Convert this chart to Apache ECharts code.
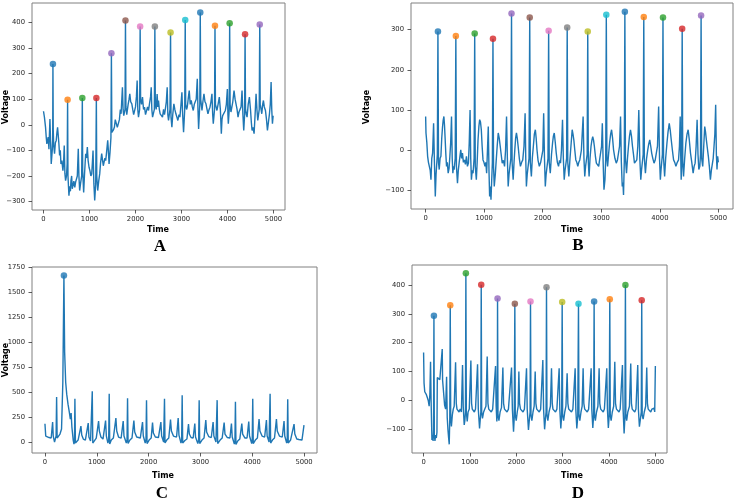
<!DOCTYPE html>
<html><head><meta charset="utf-8">
<script src="https://cdn.jsdelivr.net/npm/echarts@6/dist/echarts.min.js"></script>
<style>html,body{margin:0;padding:0;background:#fff}#c{width:738px;height:501px}</style>
</head><body><div id="c"></div><script>
// ---------- DATA ----------
var xTicks = [0, 1000, 2000, 3000, 4000, 5000];
var yTicksA = [-300, -200, -100, 0, 100, 200, 300, 400];
var yTicksB = [-100, 0, 100, 200, 300];
var yTicksC = [0, 250, 500, 750, 1000, 1250, 1500, 1750];
var yTicksD = [-100, 0, 100, 200, 300, 400];

var signalA = [[0,53],[20,30],[44,-9],[60,-50],[73,-75],[88,-60],[102,-48],[118,-95],[132,-88],[140,23],[150,-40],[168,-153],[190,-100],[200,-60],[205,238],[212,-20],[222,-80],[240,-113],[258,-70],[277,-61],[292,-30],[306,-10],[320,-40],[335,-75],[350,-120],[365,-100],[379,-153],[400,-140],[422,-179],[436,-150],[451,-81],[465,-190],[480,-218],[500,-200],[515,-150],[524,98],[532,-200],[553,-277],[570,-240],[585,-260],[597,-218],[612,-200],[625,-250],[640,-244],[660,-220],[680,-245],[698,-224],[715,-230],[735,-200],[756,-94],[770,-200],[786,-257],[805,-230],[830,-200],[844,105],[852,-180],[873,-264],[890,-200],[905,-150],[917,-113],[935,-130],[953,-87],[970,-140],[990,-166],[1010,-180],[1030,-200],[1048,-192],[1062,-150],[1077,-101],[1095,-230],[1113,-296],[1135,-230],[1149,105],[1158,-200],[1178,-257],[1200,-220],[1222,-192],[1240,-150],[1265,-113],[1285,-140],[1300,-160],[1316,-166],[1335,-130],[1352,-140],[1370,-110],[1396,-61],[1410,-100],[1425,-153],[1445,-110],[1466,-50],[1476,280],[1486,-30],[1498,-35],[1520,-20],[1542,-9],[1560,20],[1585,17],[1605,-10],[1629,-9],[1650,20],[1670,60],[1687,43],[1700,90],[1716,147],[1730,60],[1745,36],[1772,60],[1782,408],[1792,70],[1810,40],[1825,43],[1840,80],[1860,100],[1876,121],[1895,90],[1920,82],[1940,60],[1960,40],[1978,43],[2000,70],[2020,110],[2036,173],[2050,60],[2065,30],[2090,60],[2101,384],[2111,100],[2130,80],[2152,108],[2175,60],[2196,69],[2218,40],[2240,36],[2262,70],[2284,56],[2310,90],[2328,110],[2342,147],[2355,60],[2371,30],[2410,60],[2421,384],[2431,80],[2450,60],[2470,120],[2485,70],[2500,95],[2518,60],[2536,43],[2560,40],[2587,30],[2610,60],[2630,40],[2645,56],[2670,90],[2689,147],[2703,40],[2718,17],[2750,60],[2762,361],[2772,30],[2791,-9],[2810,40],[2834,82],[2855,60],[2878,43],[2900,30],[2921,17],[2945,40],[2965,30],[2985,70],[3009,127],[3025,40],[3045,-29],[3070,60],[3081,410],[3091,80],[3110,60],[3125,69],[3145,100],[3168,134],[3190,80],[3212,95],[3235,70],[3256,56],[3278,80],[3299,82],[3320,100],[3343,180],[3358,60],[3372,-16],[3398,80],[3408,439],[3418,100],[3445,56],[3465,90],[3488,121],[3510,90],[3532,82],[3555,60],[3575,43],[3600,60],[3619,69],[3640,90],[3662,121],[3678,40],[3691,4],[3718,60],[3728,387],[3738,80],[3771,56],[3795,80],[3822,108],[3845,60],[3866,-35],[3880,20],[3895,36],[3925,40],[3953,56],[3975,80],[3997,140],[4009,40],[4018,4],[4038,60],[4047,397],[4057,80],[4075,50],[4091,56],[4115,90],[4142,134],[4165,100],[4186,95],[4208,60],[4229,30],[4250,50],[4273,43],[4295,70],[4316,134],[4335,40],[4353,-22],[4372,40],[4382,354],[4392,60],[4410,40],[4425,30],[4450,80],[4476,108],[4500,60],[4518,10],[4534,-22],[4556,-10],[4578,-35],[4600,40],[4621,121],[4640,60],[4658,17],[4690,60],[4701,392],[4711,80],[4730,60],[4745,43],[4765,80],[4781,95],[4800,70],[4825,56],[4848,20],[4868,-22],[4890,10],[4912,43],[4930,80],[4948,167],[4962,60],[4977,4],[4992,36]];
var peakTimeA = [205, 524, 844, 1149, 1476, 1782, 2101, 2421, 2762, 3081, 3408, 3728, 4047, 4382, 4701];
var peakVoltA = [238, 98, 105, 105, 280, 408, 384, 384, 361, 410, 439, 387, 397, 354, 392];

var signalB = [[0,84],[6,43],[20,20],[34,-15],[48,-30],[63,-40],[78,-50],[91,-73],[105,-20],[119,-7],[136,67],[150,-30],[165,-115],[178,-60],[187,-40],[200,-10],[210,295],[220,-30],[232,-48],[247,-20],[261,-15],[275,30],[289,59],[300,75],[312,84],[323,60],[334,26],[345,-10],[357,-40],[370,-30],[385,-57],[400,-45],[414,-15],[428,20],[442,84],[454,-20],[465,-57],[476,-40],[487,-48],[505,-20],[516,284],[526,-40],[544,-82],[558,-50],[572,-32],[586,-15],[600,1],[615,-20],[629,-7],[645,-30],[663,-24],[680,-35],[697,-15],[714,-40],[731,-32],[745,20],[759,100],[770,-20],[782,-73],[796,-50],[810,-57],[828,-20],[838,290],[848,-40],[866,-73],[880,-30],[895,26],[910,60],[923,76],[937,70],[951,51],[965,10],[980,-24],[996,-30],[1014,-40],[1028,-30],[1042,-57],[1056,0],[1070,59],[1082,-50],[1093,-115],[1105,-90],[1116,-123],[1140,-30],[1150,277],[1160,-40],[1172,-90],[1190,-60],[1206,-24],[1222,10],[1240,43],[1257,30],[1274,10],[1290,-10],[1308,-32],[1328,-25],[1348,-40],[1365,0],[1382,84],[1396,-20],[1410,-90],[1424,-60],[1438,-57],[1455,-20],[1467,340],[1477,-30],[1495,-73],[1510,-30],[1523,1],[1537,30],[1551,43],[1565,30],[1580,10],[1600,-20],[1619,-40],[1640,-30],[1659,-24],[1680,10],[1699,92],[1710,-20],[1721,-90],[1735,-60],[1750,-57],[1766,-20],[1778,330],[1788,-30],[1806,-65],[1822,-20],[1840,10],[1857,40],[1874,51],[1888,30],[1902,1],[1920,-25],[1942,-40],[1965,-30],[1987,-32],[2002,0],[2016,92],[2030,-20],[2044,-90],[2058,-60],[2072,-57],[2090,-20],[2101,297],[2111,-30],[2129,-57],[2150,-10],[2168,18],[2182,35],[2197,43],[2214,20],[2231,-7],[2250,-30],[2270,-40],[2287,-25],[2304,-32],[2320,0],[2338,76],[2352,-20],[2367,-73],[2381,-50],[2395,-48],[2408,-20],[2418,305],[2428,-30],[2446,-65],[2466,-20],[2486,18],[2503,51],[2517,40],[2531,26],[2548,0],[2565,-24],[2582,-30],[2599,-40],[2616,-30],[2633,-24],[2660,0],[2690,84],[2704,-20],[2718,-65],[2732,-40],[2746,-40],[2759,-10],[2769,295],[2779,-30],[2792,-65],[2808,-20],[2825,10],[2840,25],[2854,34],[2868,25],[2882,10],[2900,-15],[2916,-32],[2936,-30],[2956,-40],[2975,-20],[2990,-24],[3005,10],[3018,67],[3032,-30],[3046,-98],[3063,-73],[3076,-20],[3086,337],[3096,-20],[3108,-40],[3125,-10],[3142,18],[3160,40],[3176,51],[3193,30],[3210,1],[3233,-20],[3256,-32],[3275,-25],[3295,-24],[3312,10],[3329,84],[3343,-30],[3358,-90],[3370,-80],[3380,-111],[3393,-30],[3403,344],[3413,-20],[3431,-57],[3448,-20],[3465,10],[3482,35],[3499,51],[3516,35],[3533,10],[3550,-10],[3567,-32],[3587,-30],[3607,-24],[3624,10],[3641,100],[3658,-20],[3675,-73],[3687,-50],[3697,-48],[3716,-10],[3726,331],[3736,-20],[3754,-57],[3774,-20],[3794,1],[3810,15],[3828,26],[3845,10],[3861,-7],[3880,-20],[3901,-32],[3920,-25],[3941,-24],[3960,10],[3980,109],[3995,-20],[4009,-73],[4020,-50],[4031,-48],[4044,-10],[4054,330],[4064,-20],[4082,-65],[4100,-20],[4122,18],[4140,45],[4161,67],[4178,50],[4195,26],[4215,0],[4235,-24],[4255,-30],[4275,-40],[4298,-30],[4320,-24],[4335,10],[4348,84],[4358,-20],[4365,-73],[4372,-40],[4382,302],[4392,-30],[4405,-65],[4425,-20],[4445,18],[4465,40],[4484,51],[4504,25],[4524,-7],[4546,-30],[4569,-57],[4586,-40],[4603,-32],[4620,10],[4637,76],[4652,-10],[4666,-48],[4683,-40],[4695,-10],[4705,335],[4715,-20],[4733,-40],[4750,10],[4767,59],[4781,45],[4795,26],[4812,5],[4829,-15],[4846,-40],[4864,-73],[4880,-50],[4897,-48],[4912,-20],[4926,10],[4940,40],[4954,113],[4966,-10],[4977,-48],[4988,-15],[4999,-30]];
var peakTimeB = [210, 516, 838, 1150, 1467, 1778, 2101, 2418, 2769, 3086, 3403, 3726, 4054, 4382, 4705];
var peakVoltB = [295, 284, 290, 277, 340, 330, 297, 305, 295, 337, 344, 331, 330, 302, 335];

var signalC = [[0,184],[15,60],[40,50],[80,45],[120,40],[135,60],[148,200],[160,60],[185,0],[200,-15],[215,60],[225,452],[235,40],[260,60],[290,80],[320,130],[345,600],[366,1670],[380,900],[400,600],[420,480],[445,380],[470,300],[490,230],[505,290],[520,150],[545,20],[560,-20],[570,10],[578,435],[588,-10],[610,0],[640,20],[670,30],[694,160],[710,70],[740,30],[780,20],[815,30],[835,190],[848,50],[880,10],[900,20],[913,510],[923,-10],[950,10],[990,40],[1035,210],[1050,110],[1080,50],[1120,30],[1150,40],[1170,215],[1185,60],[1215,-10],[1230,20],[1240,485],[1250,-20],[1280,20],[1320,40],[1369,240],[1385,110],[1420,50],[1470,40],[1510,210],[1525,60],[1570,-10],[1584,20],[1594,440],[1604,-15],[1640,20],[1680,40],[1716,215],[1732,100],[1770,50],[1840,40],[1883,200],[1898,60],[1935,-10],[1950,30],[1960,420],[1970,-15],[2010,20],[2050,40],[2076,195],[2092,90],[2130,50],[2190,45],[2237,200],[2252,60],[2290,0],[2298,20],[2307,435],[2317,-10],[2350,20],[2390,40],[2423,225],[2440,110],[2480,60],[2540,50],[2571,240],[2586,70],[2625,-10],[2638,20],[2648,470],[2658,-10],[2700,15],[2740,30],[2770,180],[2786,80],[2820,45],[2860,40],[2892,185],[2906,50],[2950,-15],[2966,20],[2976,420],[2986,-15],[3030,20],[3070,40],[3104,220],[3120,100],[3160,55],[3210,45],[3245,200],[3260,60],[3300,0],[3313,20],[3323,420],[3333,-15],[3380,20],[3420,40],[3458,195],[3474,80],[3520,45],[3570,40],[3599,185],[3614,50],[3655,-20],[3666,10],[3676,405],[3686,-25],[3720,10],[3760,30],[3799,185],[3815,80],[3860,40],[3900,40],[3933,205],[3948,60],[3990,-15],[4000,20],[4010,435],[4020,-15],[4060,20],[4100,40],[4132,230],[4148,110],[4190,60],[4240,50],[4274,220],[4288,60],[4325,0],[4335,20],[4345,485],[4355,-10],[4390,20],[4430,40],[4467,230],[4483,110],[4525,60],[4580,50],[4614,210],[4628,60],[4665,-10],[4675,20],[4685,430],[4695,-10],[4740,20],[4775,30],[4807,180],[4822,80],[4860,30],[4900,25],[4960,20],[4985,25],[4999,170]];
var peakTimeC = [366];
var peakVoltC = [1670];

var signalD = [[0,166],[10,60],[25,30],[45,25],[60,20],[80,10],[100,0],[120,-20],[135,20],[150,134],[162,0],[180,-137],[195,-120],[205,-140],[215,-100],[223,293],[232,-120],[245,-140],[260,-120],[275,-130],[288,-110],[296,79],[320,75],[350,72],[385,70],[402,178],[410,70],[431,66],[453,-16],[475,-30],[496,82],[510,-60],[525,-100],[540,-130],[553,-152],[565,-60],[575,330],[585,-60],[600,-90],[620,-50],[640,-30],[660,-20],[690,132],[705,-10],[720,-30],[740,-27],[765,-40],[790,-30],[815,-40],[840,123],[855,-20],[876,-85],[890,-70],[903,-40],[912,440],[922,-40],[941,-73],[960,-40],[985,-30],[1020,138],[1035,-10],[1050,-30],[1070,-27],[1095,-40],[1120,-30],[1145,-35],[1164,125],[1180,-30],[1207,-97],[1225,-60],[1235,-40],[1243,401],[1253,-40],[1270,-62],[1295,-40],[1320,-30],[1345,-20],[1372,152],[1388,-10],[1405,-30],[1430,-27],[1460,-40],[1490,-30],[1520,-35],[1552,119],[1565,-20],[1580,-73],[1590,-40],[1595,353],[1605,-50],[1625,-70],[1650,-40],[1680,-25],[1710,114],[1725,-10],[1745,-30],[1770,-35],[1800,-40],[1830,-30],[1865,-35],[1897,114],[1915,-30],[1940,-108],[1955,-60],[1968,335],[1978,-50],[1998,-70],[2020,-40],[2040,-20],[2055,100],[2070,-10],[2090,-30],[2115,-27],[2145,-40],[2175,-30],[2200,-30],[2220,111],[2235,-30],[2262,-102],[2285,-60],[2297,-40],[2306,343],[2316,-50],[2335,-70],[2360,-40],[2385,-20],[2407,100],[2422,-10],[2440,-30],[2465,-27],[2495,-40],[2525,-30],[2550,-35],[2572,140],[2588,-30],[2610,-100],[2630,-60],[2642,-40],[2651,392],[2661,-50],[2680,-70],[2705,-40],[2735,-20],[2759,111],[2775,-10],[2790,-30],[2815,-27],[2845,-40],[2875,-30],[2900,-35],[2924,111],[2938,-30],[2960,-97],[2978,-50],[2989,341],[2999,-50],[3020,-70],[3045,-40],[3070,-20],[3096,94],[3112,-10],[3130,-30],[3160,-27],[3190,-40],[3220,-30],[3245,-35],[3269,111],[3283,-30],[3305,-97],[3325,-55],[3341,335],[3351,-50],[3370,-70],[3395,-40],[3420,-20],[3441,111],[3456,-10],[3475,-30],[3500,-27],[3530,-40],[3560,-30],[3590,-35],[3614,111],[3628,-30],[3650,-95],[3668,-50],[3678,343],[3688,-50],[3705,-70],[3730,-40],[3760,-20],[3786,111],[3800,-10],[3820,-30],[3845,-27],[3875,-40],[3900,-30],[3928,-35],[3951,111],[3965,-30],[3985,-95],[4004,-50],[4016,350],[4026,-50],[4045,-70],[4070,-40],[4100,-20],[4124,134],[4140,-10],[4160,-30],[4185,-27],[4215,-40],[4240,-30],[4265,-35],[4289,123],[4303,-30],[4325,-114],[4342,-60],[4353,400],[4363,-50],[4380,-70],[4405,-40],[4440,-20],[4468,128],[4483,-10],[4500,-30],[4525,-27],[4555,-40],[4580,-30],[4600,-35],[4619,123],[4633,-30],[4655,-91],[4680,-60],[4695,-40],[4705,347],[4715,-50],[4735,-65],[4760,-40],[4790,-20],[4813,114],[4828,-10],[4845,-30],[4870,-27],[4900,-40],[4925,-30],[4950,-35],[4970,-27],[4985,-40],[4999,119]];
var peakTimeD = [223, 575, 912, 1243, 1595, 1968, 2306, 2651, 2989, 3341, 3678, 4016, 4353, 4705];
var peakVoltD = [293, 330, 440, 401, 353, 335, 343, 392, 341, 335, 343, 350, 400, 347];

var palette = ['#1f77b4','#ff7f0e','#2ca02c','#d62728','#9467bd','#8c564b','#e377c2','#7f7f7f','#bcbd22','#17becf'];

// ---------- CHART ----------
var chart = echarts.init(document.getElementById('c'), null, {renderer: 'canvas'});
var TICKFONT = 'DejaVu Sans';
function fmt(v){ return v < 0 ? '\u2212' + (-v) : String(v); }
function xAxis(i, ticks){
  return {type:'value', gridIndex:i, min:-250, max:5250, position:'bottom',
    axisLine:{show:false, onZero:false}, splitLine:{show:false},
    axisTick:{show:true, length:3.5, lineStyle:{color:'#333', width:0.8}, customValues:ticks},
    axisLabel:{customValues:ticks, formatter:fmt, fontSize:6.8, color:'#262626', fontFamily:TICKFONT, margin:6}};
}
function yAxis(i, min, max, ticks){
  return {type:'value', gridIndex:i, min:min, max:max, position:'left',
    axisLine:{show:false, onZero:false}, splitLine:{show:false},
    axisTick:{show:true, length:3.5, lineStyle:{color:'#333', width:0.8}, customValues:ticks},
    axisLabel:{customValues:ticks, formatter:fmt, fontSize:6.8, color:'#262626', fontFamily:TICKFONT, margin:7}};
}
function lineSeries(i, data){
  return {type:'line', xAxisIndex:i, yAxisIndex:i, data:data, showSymbol:false, symbol:'none',
    lineStyle:{color:'#1f77b4', width:1.4}, animation:false, z:2};
}
function peakSeries(i, ts, vs){
  var d = ts.map(function(t, k){ return {value:[t, vs[k]], itemStyle:{color:palette[k % palette.length]}}; });
  return {type:'scatter', xAxisIndex:i, yAxisIndex:i, data:d, symbol:'circle', symbolSize:6.5, animation:false, z:3};
}
var gridStyle = {show:true, borderColor:'#808080', borderWidth:1, backgroundColor:'transparent', containLabel:false};
function txt(x, y, s, size, weight, family, rot){
  return {type:'text', x:x, y:y, rotation:rot||0, style:{text:s, fontSize:size, fontWeight:weight, fontFamily:family, fill:'#000', textAlign:'center', textVerticalAlign:'middle'}};
}
var option = {
  animation:false,
  backgroundColor:'#ffffff',
  grid:[
    Object.assign({left:32, top:3, width:253, height:207}, gridStyle),
    Object.assign({left:411, top:3, width:322, height:206}, gridStyle),
    Object.assign({left:32, top:267, width:285, height:186}, gridStyle),
    Object.assign({left:412, top:265, width:255, height:188}, gridStyle)
  ],
  xAxis:[xAxis(0, xTicks), xAxis(1, xTicks), xAxis(2, xTicks), xAxis(3, xTicks)],
  yAxis:[yAxis(0, -333, 476, yTicksA), yAxis(1, -146, 366, yTicksB), yAxis(2, -110, 1755, yTicksC), yAxis(3, -182, 469, yTicksD)],
  series:[
    lineSeries(0, signalA), peakSeries(0, peakTimeA, peakVoltA),
    lineSeries(1, signalB), peakSeries(1, peakTimeB, peakVoltB),
    lineSeries(2, signalC), peakSeries(2, peakTimeC, peakVoltC),
    lineSeries(3, signalD), peakSeries(3, peakTimeD, peakVoltD)
  ],
  graphic:[
    txt(6, 107, 'Voltage', 8, 'bold', 'DejaVu Sans', Math.PI/2),
    txt(367, 107, 'Voltage', 8, 'bold', 'DejaVu Sans', Math.PI/2),
    txt(6, 360, 'Voltage', 8, 'bold', 'DejaVu Sans', Math.PI/2),
    txt(158, 230, 'Time', 8, 'bold', 'DejaVu Sans'),
    txt(572, 230, 'Time', 8, 'bold', 'DejaVu Sans'),
    txt(163, 476, 'Time', 8, 'bold', 'DejaVu Sans'),
    txt(572, 476, 'Time', 8, 'bold', 'DejaVu Sans'),
    txt(160, 247, 'A', 17, 'bold', 'Liberation Serif'),
    txt(578, 246, 'B', 17, 'bold', 'Liberation Serif'),
    txt(162, 494, 'C', 17, 'bold', 'Liberation Serif'),
    txt(578, 494, 'D', 17, 'bold', 'Liberation Serif')
  ]
};
chart.setOption(option);
</script></body></html>
